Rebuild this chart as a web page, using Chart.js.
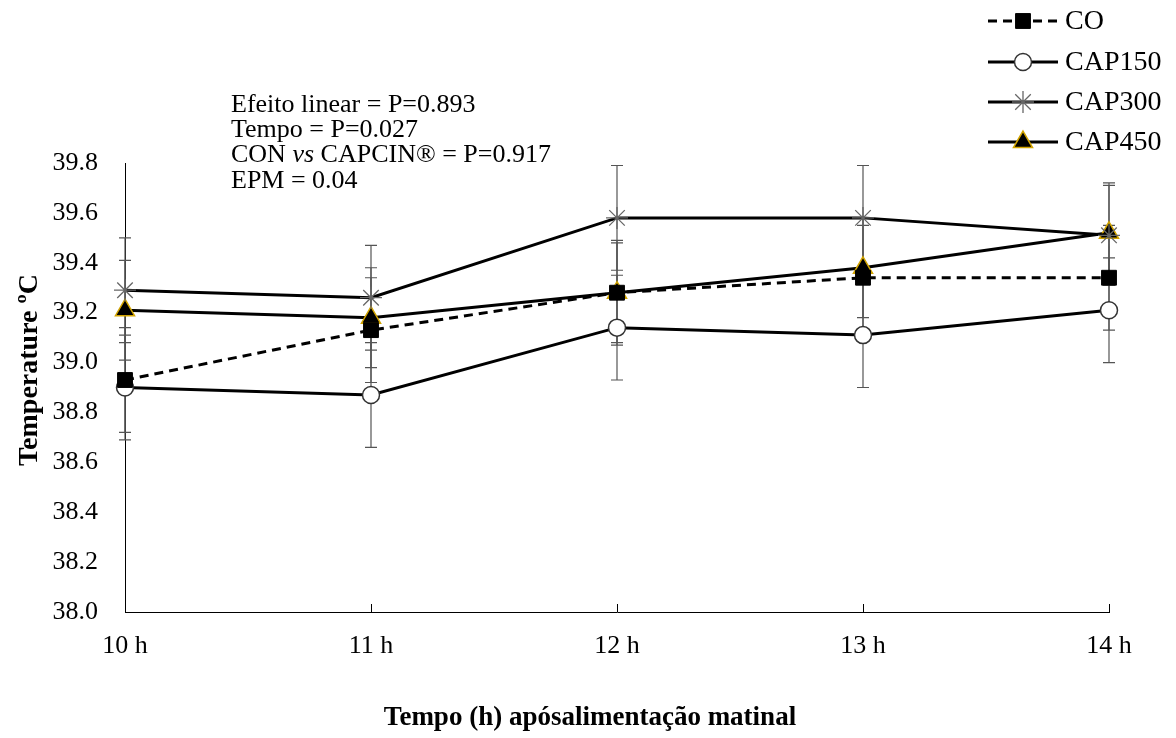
<!DOCTYPE html>
<html lang="pt">
<head>
    <meta charset="UTF-8">
    <script src="https://cdn.jsdelivr.net/npm/chart.js"></script>
    <title>Temperatura</title>
    <style>
        body { margin: 0; background: #fff; }
        #wrap { width: 1176px; height: 738px; }
    </style>
</head>
<body>
    <div id="wrap"><canvas id="grafico"></canvas></div>
<script>
    // dados
    const horas = ['10 h', '11 h', '12 h', '13 h', '14 h'];
    const co = [38.93, 39.13, 39.28, 39.34, 39.34];
    const cap150 = [38.90, 38.87, 39.14, 39.11, 39.21];
    const cap300 = [39.29, 39.26, 39.58, 39.58, 39.51];
    const cap450 = [39.21, 39.18, 39.28, 39.38, 39.52];
    const erroCo = [0.21, 0.21, 0.21, 0.21, 0.21];
    const erro150 = [0.21, 0.21, 0.21, 0.21, 0.21];
    const erro300 = [0.21, 0.21, 0.21, 0.21, 0.20];
    const erro450 = [0.20, 0.20, 0.20, 0.20, 0.20];
    const textos = ['Efeito linear = P=0.893', 'Tempo = P=0.027', 'CON |vs| CAPCIN® = P=0.917', 'EPM = 0.04'];
    const tituloX = 'Tempo (h) apósalimentação matinal';
    const tituloY = 'Temperature ºC';

    const serif = '"Liberation Serif", "Times New Roman", serif';

    // barras de erro desenhadas antes das linhas
    const barrasErro = {
        id: 'barrasErro',
        beforeDatasetsDraw(chart) {
            const ctx = chart.ctx;
            const x = chart.scales.x, y = chart.scales.y;
            ctx.save();
            ctx.strokeStyle = '#555';
            ctx.lineWidth = 1.2;
            chart.data.datasets.forEach(function (ds) {
                ds.data.forEach(function (v, i) {
                    const px = x.getPixelForValue(i);
                    const top = y.getPixelForValue(v + ds.erro[i]);
                    const bot = y.getPixelForValue(v - ds.erro[i]);
                    ctx.beginPath();
                    ctx.moveTo(px, top); ctx.lineTo(px, bot);
                    ctx.moveTo(px - 6, top); ctx.lineTo(px + 6, top);
                    ctx.moveTo(px - 6, bot); ctx.lineTo(px + 6, bot);
                    ctx.stroke();
                });
            });
            // marcas do eixo x para dentro
            ctx.strokeStyle = '#000';
            ctx.lineWidth = 1;
            for (let i = 1; i < horas.length; i++) {
                const px = Math.round(x.getPixelForValue(i)) + 0.5;
                ctx.beginPath();
                ctx.moveTo(px, y.bottom);
                ctx.lineTo(px, y.bottom - 8);
                ctx.stroke();
            }
            ctx.restore();
        }
    };

    // legenda, títulos dos eixos e texto de estatística
    const legendaTexto = {
        id: 'legendaTexto',
        afterDraw(chart) {
            const ctx = chart.ctx;
            ctx.save();
            const linhas = [21, 62, 102, 142];
            chart.data.datasets.forEach(function (ds, k) {
                const yy = linhas[k];
                ctx.strokeStyle = '#000';
                ctx.lineWidth = 3;
                ctx.setLineDash(ds.borderDash || []);
                ctx.beginPath();
                ctx.moveTo(988, yy); ctx.lineTo(1058, yy);
                ctx.stroke();
                ctx.setLineDash([]);
                ctx.fillStyle = ds.pointBackgroundColor;
                ctx.strokeStyle = ds.pointBorderColor;
                ctx.lineWidth = ds.pointBorderWidth;
                Chart.helpers.drawPoint(ctx, {
                    pointStyle: ds.pointStyle,
                    radius: ds.pointRadius,
                    rotation: 0,
                    borderWidth: ds.pointBorderWidth
                }, 1023, yy);
                ctx.fillStyle = '#000';
                ctx.font = '28px ' + serif;
                ctx.textBaseline = 'middle';
                ctx.fillText(ds.label, 1065, yy + 1);
            });

            ctx.fillStyle = '#000';
            ctx.textBaseline = 'middle';
            textos.forEach(function (t, k) {
                const yy = 105 + k * 25.3;
                let xx = 231;
                t.split('|').forEach(function (parte, j) {
                    ctx.font = (j === 1 ? 'italic ' : '') + '26px ' + serif;
                    ctx.fillText(parte, xx, yy);
                    xx += ctx.measureText(parte).width;
                });
            });

            ctx.textAlign = 'center';
            ctx.font = 'bold 27px ' + serif;
            ctx.fillText(tituloX, 590, 718);
            ctx.translate(30, 370);
            ctx.rotate(-Math.PI / 2);
            ctx.font = 'bold 28px ' + serif;
            ctx.fillText(tituloY, 0, 0);
            ctx.restore();
        }
    };

    const dados = {
        labels: horas,
        datasets: [
            {
                label: 'CO', data: co, erro: erroCo,
                borderColor: '#000', borderWidth: 3, borderDash: [9, 6],
                pointStyle: 'rect', pointRadius: 10.5,
                pointBackgroundColor: '#000', pointBorderColor: '#000', pointBorderWidth: 1
            },
            {
                label: 'CAP150', data: cap150, erro: erro150,
                borderColor: '#000', borderWidth: 3,
                pointStyle: 'circle', pointRadius: 8.5,
                pointBackgroundColor: '#fff', pointBorderColor: '#333', pointBorderWidth: 1.5
            },
            {
                label: 'CAP300', data: cap300, erro: erro300,
                borderColor: '#000', borderWidth: 3,
                pointStyle: 'star', pointRadius: 11,
                pointBackgroundColor: '#666', pointBorderColor: '#666', pointBorderWidth: 1.3
            },
            {
                label: 'CAP450', data: cap450, erro: erro450,
                borderColor: '#000', borderWidth: 3,
                pointStyle: 'triangle', pointRadius: 11,
                pointBackgroundColor: '#000', pointBorderColor: '#d2a400', pointBorderWidth: 1.5
            }
        ]
    };
    dados.datasets.forEach(function (ds) {
        ds.tension = 0;
        ds.fill = false;
        ds.clip = false;
        ds.pointHoverRadius = ds.pointRadius;
    });

    const config = {
        type: 'line',
        data: dados,
        options: {
            responsive: true,
            maintainAspectRatio: false,
            animation: false,
            layout: { padding: { top: 163, right: 67, left: 0, bottom: 0 } },
            plugins: {
                legend: { display: false },
                tooltip: { enabled: false }
            },
            scales: {
                x: {
                    offset: false,
                    grid: { display: false },
                    border: { display: true, color: '#000', width: 1 },
                    ticks: { color: '#000', padding: 11, font: { family: serif, size: 26 } },
                    afterFit: function (s) { s.height = 126; }
                },
                y: {
                    min: 38.0,
                    max: 39.8,
                    grid: { display: false },
                    border: { display: true, color: '#000', width: 1 },
                    ticks: {
                        stepSize: 0.2,
                        color: '#000',
                        padding: 19,
                        font: { family: serif, size: 26 },
                        callback: function (v) { return Number(v).toFixed(1); }
                    },
                    afterFit: function (s) { s.width = 125; }
                }
            }
        },
        plugins: [barrasErro, legendaTexto]
    };

    new Chart(document.getElementById('grafico'), config);
</script>
</body>
</html>
